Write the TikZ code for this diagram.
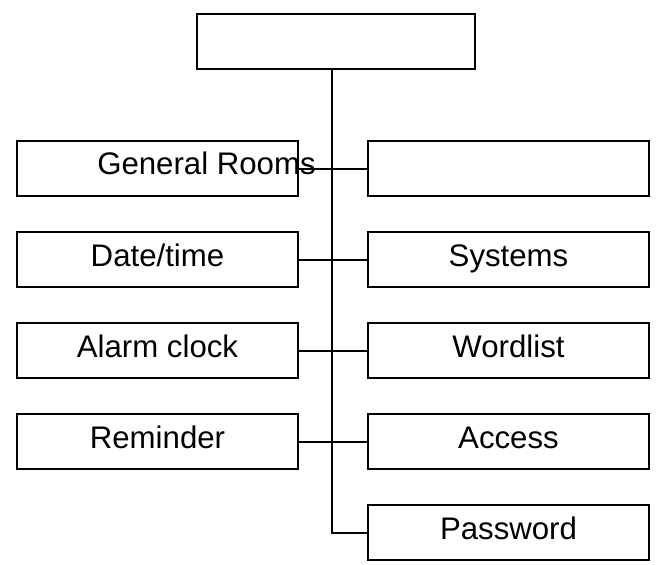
\documentclass[tikz,border=0pt]{standalone}
\usepackage{fontspec}
\setmainfont{Liberation Sans}
\usetikzlibrary{positioning}

\begin{document}
\begin{tikzpicture}[
	x=0.5pt, y=-0.5pt,
	node distance=16.8pt and 33.8pt,
	topbox/.style={rectangle, draw, line width=1.2pt, minimum width=139pt, minimum height=27.5pt, inner sep=0pt},
	itembox/.style={rectangle, draw, line width=1.2pt, minimum width=140.5pt, minimum height=27.5pt, inner sep=0pt, text height=11pt, text depth=4pt, font=\fontsize{15.6}{18}\selectfont},
	link/.style={draw, line width=1pt}
	]
	\useasboundingbox (0,0) rectangle (659,564);

	\node [topbox] (root) at (336,41.5) {};

	% left column
	\node [itembox, label={[xshift=24.5pt, yshift=2.5pt, font=\fontsize{15.6}{18}\selectfont]center:General Rooms}] (rooms) at (157.5,168.5) {};
	\node [itembox, below=of rooms] (datetime) {Date/time};
	\node [itembox, below=of datetime] (alarm) {Alarm clock};
	\node [itembox, below=of alarm] (reminder) {Reminder};

	% right column
	\node [itembox, right=of rooms] (blank) {};
	\node [itembox, right=of datetime] (systems) {Systems};
	\node [itembox, right=of alarm] (wordlist) {Wordlist};
	\node [itembox, right=of reminder] (access) {Access};
	\node [itembox, below=of access] (password) {Password};

	\coordinate (trunk) at ([xshift=-2pt]root.south);

	\draw [link] (trunk) |- (password.west);
	\draw [link] (rooms.east) -- (blank.west);
	\draw [link] (datetime.east) -- (systems.west);
	\draw [link] (alarm.east) -- (wordlist.west);
	\draw [link] (reminder.east) -- (access.west);
\end{tikzpicture}
\end{document}
